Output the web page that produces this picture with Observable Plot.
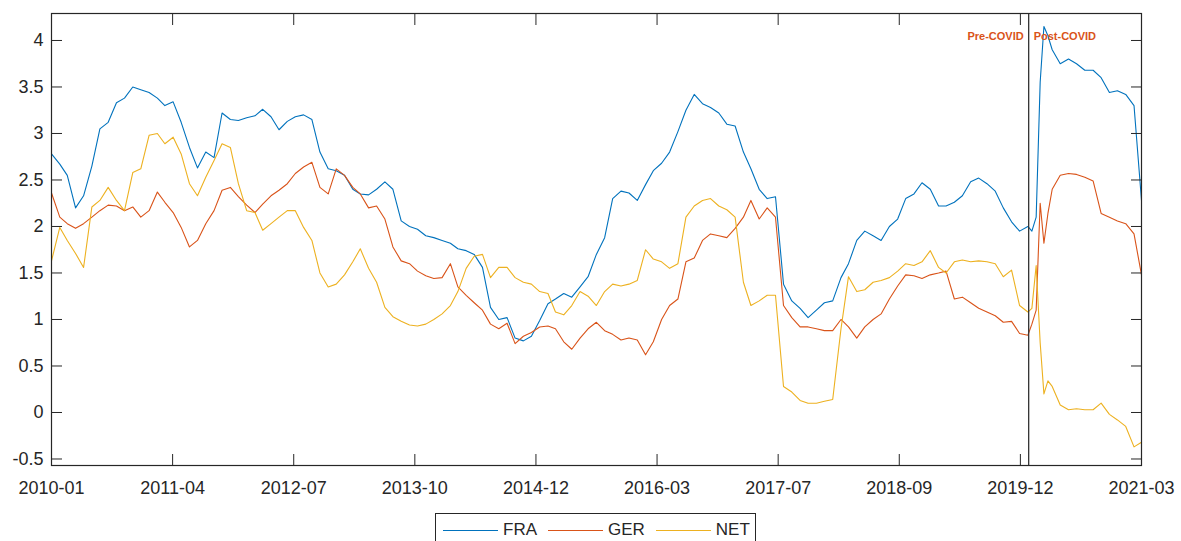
<!DOCTYPE html>
<html>
<head>
<meta charset="utf-8">
<script src="https://cdn.jsdelivr.net/npm/d3@7"></script>
<script src="https://cdn.jsdelivr.net/npm/@observablehq/plot@0.6"></script>
<style>
  body { margin: 0; background: #fff; font-family: "Liberation Sans", Arial, sans-serif; }
  #wrap { position: relative; width: 1181px; height: 541px; overflow: hidden; }
  #legend { position: absolute; left: 435px; top: 513px; height: 34px; border: 1px solid #262626;
            box-sizing: border-box; display: flex; align-items: flex-start; padding: 7px 5px 0 7px;
            font-size: 17px; color: #262626; background: #fff; }
  .item { display: flex; align-items: center; margin-right: 11px; height: 18px; }
  .item:last-child { margin-right: 0; }
  .sw { width: 55px; height: 0; border-top: 1.3px solid; margin-right: 5px; }
</style>
</head>
<body>
<div id="wrap"><div id="chart"></div><div id="legend"></div></div>
<script>
const dates = [
  "2010-01-01","2010-02-01","2010-03-01","2010-04-01","2010-05-01","2010-06-01","2010-07-01","2010-08-01","2010-09-01","2010-10-01","2010-11-01","2010-12-01",
  "2011-01-01","2011-02-01","2011-03-01","2011-04-01","2011-05-01","2011-06-01","2011-07-01","2011-08-01","2011-09-01","2011-10-01","2011-11-01","2011-12-01",
  "2012-01-01","2012-02-01","2012-03-01","2012-04-01","2012-05-01","2012-06-01","2012-07-01","2012-08-01","2012-09-01","2012-10-01","2012-11-01","2012-12-01",
  "2013-01-01","2013-02-01","2013-03-01","2013-04-01","2013-05-01","2013-06-01","2013-07-01","2013-08-01","2013-09-01","2013-10-01","2013-11-01","2013-12-01",
  "2014-01-01","2014-02-01","2014-03-01","2014-04-01","2014-05-01","2014-06-01","2014-07-01","2014-08-01","2014-09-01","2014-10-01","2014-11-01","2014-12-01",
  "2015-01-01","2015-02-01","2015-03-01","2015-04-01","2015-05-01","2015-06-01","2015-07-01","2015-08-01","2015-09-01","2015-10-01","2015-11-01","2015-12-01",
  "2016-01-01","2016-02-01","2016-03-01","2016-04-01","2016-05-01","2016-06-01","2016-07-01","2016-08-01","2016-09-01","2016-10-01","2016-11-01","2016-12-01",
  "2017-01-01","2017-02-01","2017-03-01","2017-04-01","2017-05-01","2017-06-01","2017-07-01","2017-08-01","2017-09-01","2017-10-01","2017-11-01","2017-12-01",
  "2018-01-01","2018-02-01","2018-03-01","2018-04-01","2018-05-01","2018-06-01","2018-07-01","2018-08-01","2018-09-01","2018-10-01","2018-11-01","2018-12-01",
  "2019-01-01","2019-02-01","2019-03-01","2019-04-01","2019-05-01","2019-06-01","2019-07-01","2019-08-01","2019-09-01","2019-10-01","2019-11-01","2019-12-01",
  "2020-01-01","2020-01-16","2020-02-01","2020-02-16","2020-03-01","2020-03-16","2020-04-01","2020-05-01","2020-06-01","2020-07-01","2020-08-01","2020-09-01",
  "2020-10-01","2020-11-01","2020-12-01","2021-01-01","2021-02-01","2021-03-01"
];
const FRA = [
  2.78,2.67,2.55,2.20,2.33,2.65,3.05,3.12,3.33,3.38,3.50,3.47,
  3.44,3.38,3.30,3.34,3.12,2.85,2.63,2.80,2.74,3.22,3.15,3.14,
  3.17,3.19,3.26,3.18,3.04,3.13,3.18,3.20,3.15,2.80,2.62,2.60,
  2.55,2.40,2.35,2.34,2.40,2.48,2.40,2.06,2.00,1.97,1.90,1.88,
  1.85,1.82,1.76,1.74,1.70,1.56,1.13,1.00,1.02,0.80,0.77,0.82,
  0.99,1.17,1.22,1.28,1.24,1.35,1.46,1.70,1.88,2.30,2.38,2.36,
  2.28,2.45,2.60,2.68,2.80,3.02,3.25,3.42,3.32,3.28,3.22,3.10,
  3.08,2.80,2.62,2.40,2.30,2.32,1.38,1.20,1.12,1.02,1.10,1.18,
  1.20,1.45,1.60,1.85,1.95,1.90,1.85,2.00,2.08,2.30,2.35,2.47,
  2.40,2.22,2.22,2.26,2.33,2.48,2.52,2.46,2.38,2.20,2.05,1.95,
  2.00,1.95,2.10,3.55,4.15,4.05,3.90,3.75,3.80,3.75,3.68,3.68,
  3.60,3.44,3.46,3.42,3.30,2.28
];
const GER = [
  2.36,2.10,2.03,1.98,2.03,2.10,2.17,2.23,2.22,2.17,2.21,2.10,
  2.17,2.37,2.26,2.15,1.99,1.78,1.85,2.03,2.17,2.39,2.42,2.32,
  2.23,2.15,2.24,2.33,2.39,2.46,2.57,2.64,2.69,2.42,2.35,2.62,
  2.55,2.42,2.35,2.20,2.22,2.08,1.78,1.63,1.60,1.52,1.47,1.44,
  1.45,1.60,1.35,1.26,1.18,1.10,0.95,0.90,0.96,0.74,0.82,0.86,
  0.92,0.93,0.90,0.76,0.68,0.80,0.90,0.97,0.88,0.84,0.78,0.80,
  0.78,0.62,0.76,1.00,1.15,1.22,1.62,1.66,1.85,1.92,1.90,1.88,
  1.98,2.10,2.28,2.08,2.20,2.10,1.15,1.02,0.92,0.92,0.90,0.88,
  0.88,1.00,0.92,0.80,0.92,1.00,1.06,1.22,1.36,1.48,1.47,1.44,
  1.48,1.50,1.52,1.22,1.24,1.18,1.12,1.08,1.04,0.97,0.98,0.85,
  0.83,0.95,1.10,2.25,1.82,2.14,2.40,2.55,2.57,2.56,2.53,2.49,
  2.14,2.10,2.06,2.03,1.92,1.48
];
const NET = [
  1.63,1.99,1.85,1.71,1.56,2.21,2.28,2.42,2.28,2.17,2.58,2.62,
  2.98,3.00,2.89,2.96,2.78,2.46,2.33,2.53,2.71,2.89,2.85,2.46,
  2.17,2.15,1.96,2.03,2.10,2.17,2.17,1.99,1.85,1.50,1.35,1.38,
  1.48,1.62,1.76,1.55,1.40,1.13,1.03,0.98,0.94,0.93,0.95,1.00,
  1.06,1.15,1.30,1.55,1.68,1.70,1.45,1.56,1.56,1.45,1.40,1.38,
  1.30,1.28,1.08,1.05,1.15,1.30,1.25,1.15,1.30,1.38,1.36,1.38,
  1.42,1.75,1.65,1.62,1.55,1.60,2.10,2.22,2.28,2.30,2.22,2.18,
  2.10,1.40,1.15,1.20,1.26,1.26,0.28,0.22,0.13,0.10,0.10,0.12,
  0.14,0.90,1.46,1.30,1.32,1.40,1.42,1.45,1.52,1.60,1.58,1.62,
  1.74,1.56,1.50,1.62,1.64,1.62,1.63,1.62,1.60,1.46,1.53,1.15,
  1.08,1.12,1.58,0.75,0.20,0.34,0.28,0.08,0.03,0.04,0.03,0.03,
  0.10,-0.02,-0.08,-0.15,-0.37,-0.32
];
const seriesNames = ["FRA", "GER", "NET"];
const seriesColors = ["#0072BD", "#D95319", "#EDB120"];
const xTickLabels = ["2010-01","2011-04","2012-07","2013-10","2014-12","2016-03","2017-07","2018-09","2019-12","2021-03"];
const yTicks = [-0.5, 0, 0.5, 1, 1.5, 2, 2.5, 3, 3.5, 4];
const xDomain = ["2010-01-01", "2021-03-01"];
const yDomain = [-0.57, 4.29];
const covidDate = "2020-01-04";
const periodLabels = ["Pre-COVID", "Post-COVID"];

const seriesValues = [FRA, GER, NET];
const rows = seriesNames.flatMap((s, k) =>
  dates.map((d, i) => ({date: new Date(d), value: seriesValues[k][i], series: s})));

const x0 = new Date(xDomain[0]), x1 = new Date(xDomain[1]);
const xTicks = xTickLabels.map((_, i) => new Date(+x0 + (x1 - x0) * i / (xTickLabels.length - 1)));
const labelByTime = new Map(xTicks.map((t, i) => [+t, xTickLabels[i]]));
const cDate = new Date(covidDate);
const ink = "#262626";

const chart = Plot.plot({
  width: 1181, height: 508,
  marginLeft: 51, marginRight: 40, marginTop: 13, marginBottom: 43,
  style: {fontFamily: "'Liberation Sans', Arial, sans-serif", fontSize: "18px", color: ink, background: "white"},
  x: {type: "utc", domain: [x0, x1], label: null},
  y: {domain: yDomain, label: null},
  color: {domain: seriesNames, range: seriesColors},
  marks: [
    Plot.lineY(rows, {x: "date", y: "value", stroke: "series", z: "series", strokeWidth: 1.1}),
    Plot.ruleX([cDate], {stroke: "#333", strokeWidth: 1.3}),
    Plot.text([{x: cDate, t: periodLabels[0]}], {x: "x", text: "t", frameAnchor: "top", dy: 19, dx: -5,
      textAnchor: "end", fill: "#D95319", fontWeight: "bold", fontSize: 11}),
    Plot.text([{x: cDate, t: periodLabels[1]}], {x: "x", text: "t", frameAnchor: "top", dy: 19, dx: 5,
      textAnchor: "start", fill: "#D95319", fontWeight: "bold", fontSize: 11}),
    Plot.axisX(xTicks, {anchor: "bottom", tickSize: 0, tickPadding: 16, tickFormat: d => labelByTime.get(+d) ?? "", fill: ink}),
    Plot.axisX(xTicks, {anchor: "bottom", tickSize: -11, tickFormat: () => "", stroke: ink}),
    Plot.axisX(xTicks, {anchor: "top", tickSize: -11, tickFormat: () => "", stroke: ink}),
    Plot.axisY(yTicks, {anchor: "left", tickSize: 0, tickPadding: 8, tickFormat: d => String(d), fill: ink}),
    Plot.axisY(yTicks, {anchor: "left", tickSize: -11, tickFormat: () => "", stroke: ink}),
    Plot.axisY(yTicks, {anchor: "right", tickSize: -11, tickFormat: () => "", stroke: ink}),
    Plot.frame({stroke: ink, strokeWidth: 1.2})
  ]
});
document.getElementById("chart").appendChild(chart);

const legend = d3.select("#legend");
seriesNames.forEach((s, k) => {
  const item = legend.append("div").attr("class", "item");
  item.append("div").attr("class", "sw").style("border-top-color", seriesColors[k]);
  item.append("span").text(s);
});
</script>
</body>
</html>
